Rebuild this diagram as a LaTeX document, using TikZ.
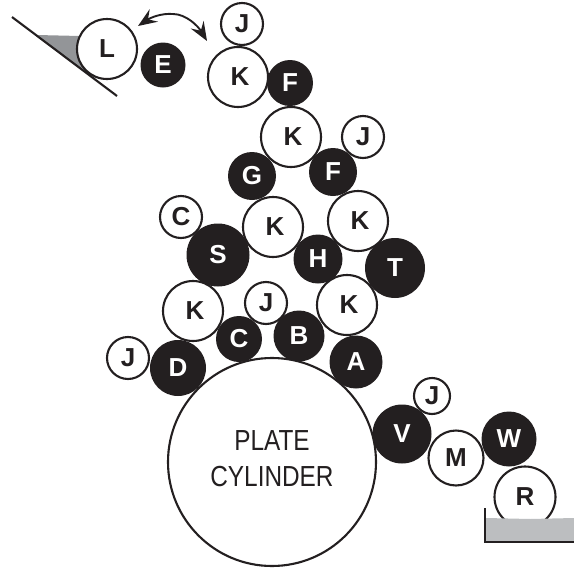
\documentclass[tikz,border=0pt]{standalone}
\usepackage{fontspec}
\setmainfont{Liberation Sans}
\newfontfamily\platefont[FakeStretch=0.84]{Liberation Sans}
\usetikzlibrary{arrows.meta}
\definecolor{ink}{HTML}{231F20}
\definecolor{wedgegray}{HTML}{939598}
\definecolor{traygray}{HTML}{BCBEC0}
\newcommand{\kay}{\hspace*{4pt}K}
\tikzset{x=1pt,y=-1pt,
 rolltext/.style={inner sep=0pt,outer sep=0pt,font=\bfseries\fontsize{26}{26}\selectfont},
 wr/.style={circle,draw=ink,text=ink,line width=2.1pt,fill=white,rolltext},
 br/.style={circle,fill=ink,text=white,rolltext},
 swap/.style={line width=1.9pt,draw=ink,-{Stealth[length=19pt,width=15pt,inset=7pt]}}}
\begin{document}
\begin{tikzpicture}
\useasboundingbox (0,0) rectangle (574,571);
\fill[wedgegray] (37,35) -- (80,36) -- (84,71) -- cycle;
\draw[ink,line width=2.1pt] (12,17) -- (117,96);
% dark rollers
\node[br,minimum size=45] (E) at (163,65) {E};
\node[br,minimum size=46] (F1) at (290,83) {F};
\node[br,minimum size=48] (G) at (252,176) {G};
\node[br,minimum size=48] (F2) at (333,172) {F};
\node[br,minimum size=63] (S) at (218,255) {S};
\node[br,minimum size=49] (H) at (318,259) {H};
\node[br,minimum size=60] (T) at (395,268) {T};
\node[br,minimum size=46] (C2) at (239,339) {C};
\node[br,minimum size=51] (B) at (299,336) {B};
\node[br,minimum size=56] (D) at (178,368) {D};
\node[br,minimum size=53] (A) at (356,362) {A};
\node[br,minimum size=59] (V) at (402,434) {V};
\node[br,minimum size=55] (W) at (509,439) {W};
% light rollers
\node[wr,minimum size=60] (L) at (107,49) {L};
\node[wr,minimum size=42] (J1) at (242,24) {J};
\node[wr,minimum size=60] (K1) at (238,77) {\kay};
\node[wr,minimum size=60] (K2) at (291,137) {\kay};
\node[wr,minimum size=42] (J2) at (363,137) {J};
\node[wr,minimum size=42] (C1) at (181,217) {C};
\node[wr,minimum size=60] (K3) at (273,227) {\kay};
\node[wr,minimum size=60] (K4) at (358,221) {\kay};
\node[wr,minimum size=60] (K5) at (193,311) {\kay};
\node[wr,minimum size=60] (K6) at (347,305) {\kay};
\node[wr,minimum size=42] (J3) at (266,303) {J};
\node[wr,minimum size=42] (J4) at (128,358) {J};
\node[wr,minimum size=36] (J5) at (432,396) {J};
\node[wr,minimum size=55] (M) at (456,458) {M};
\node[wr,minimum size=61] (R) at (525,497) {R};
\node[circle,draw=ink,line width=2.1pt,fill=white,minimum size=208,inner sep=0pt,align=center,text=ink,font=\platefont\fontsize{29}{36}\selectfont] (P) at (272,462) {PLATE\\CYLINDER\\[-30pt]};
% ink tray
\fill[traygray] (486,518) -- (530,519) -- (574,518) -- (574,541) -- (486,541) -- cycle;
\draw[ink,line width=1.9pt] (485,508) -- (485,542) -- (574,542);
% swing arrow
\coordinate (a1) at (138,26);
\coordinate (a2) at (207,41);
\coordinate (a0) at (173,14);
\draw[swap] (a0) .. controls (161,13) and (150,18) .. (a1);
\draw[swap] (a0) .. controls (186,14) and (198,26) .. (a2);
\end{tikzpicture}
\end{document}
